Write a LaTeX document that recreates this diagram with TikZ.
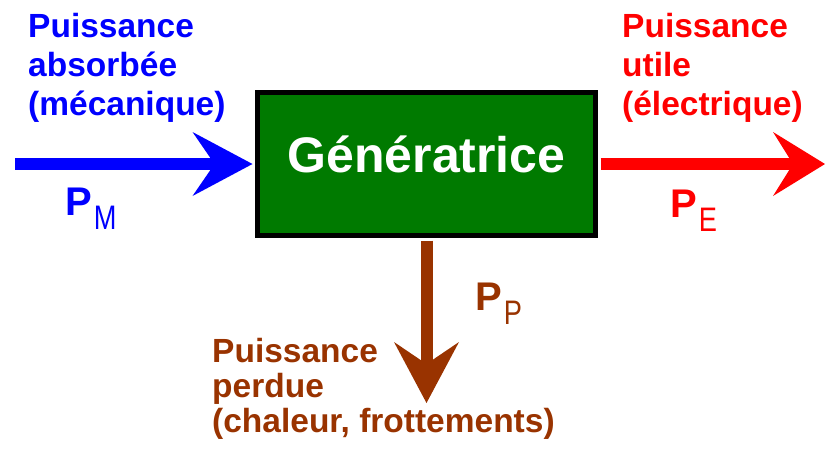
\documentclass[tikz,border=0pt]{standalone}
\usepackage{fontspec}
\setmainfont{Liberation Sans}
\usetikzlibrary{arrows.meta}
\definecolor{pblue}{RGB}{0,0,255}
\definecolor{pred}{RGB}{255,0,0}
\definecolor{pgreen}{RGB}{0,122,0}
\definecolor{pbrown}{RGB}{153,51,0}
\newcommand\pwrlabel[1]{{\fontsize{40}{40}\selectfont\bfseries P}\kern2pt\raisebox{-14pt}{\scalebox{0.8}[1]{\fontsize{34}{34}\selectfont #1}}}
\begin{document}
\begin{tikzpicture}[x=1pt,y=-1pt,
  txtlabel/.style={inner sep=0pt, anchor=north west, align=left, font=\fontsize{33.5}{39}\selectfont\bfseries},
  pwr/.style={inner sep=0pt, anchor=base west},
  flow/.style={line width=12pt}
]
\useasboundingbox (0,0) rectangle (825,450);
\node[draw=black, line width=5pt, fill=pgreen, minimum width=338pt, minimum height=143pt,
      inner sep=0pt, text=white, font=\fontsize{50}{50}\selectfont\bfseries,
      text height=37pt, text depth=21pt] (gen) at (426.5,164) {Génératrice};
\coordinate (bstart) at (15,164);
\coordinate (rend) at (825,164);
\coordinate (pend) at (426.5,403);
\draw[flow, pblue, shorten >=2.5pt, -{Stealth[length=60pt,width=64pt,inset=22pt,line width=0pt]}] (bstart) -- (gen.west);
\draw[flow, pred, shorten <=2.5pt, -{Stealth[length=52pt,width=64pt,inset=20pt,line width=0pt]}] (gen.east) -- (rend);
\draw[flow, pbrown, shorten <=2.5pt, -{Stealth[length=61pt,width=65pt,inset=22pt,line width=0pt]}] (gen.south) -- (pend);
\node[txtlabel, text=pblue] (la) at (28,13) {Puissance\\absorbée\\(mécanique)};
\node[txtlabel, text=pred] (lu) at (622,13) {Puissance\\utile\\(électrique)};
\node[txtlabel, text=pbrown, font=\fontsize{33.5}{35}\selectfont\bfseries] (lp) at (212,338) {Puissance\\perdue\\(chaleur, frottements)};
\node[pwr, text=pblue] (pm) at (65,215) {\pwrlabel{M}};
\node[pwr, text=pred] (pe) at (670,217) {\pwrlabel{E}};
\node[pwr, text=pbrown] (pp) at (475,310) {\pwrlabel{P}};
\end{tikzpicture}
\end{document}
